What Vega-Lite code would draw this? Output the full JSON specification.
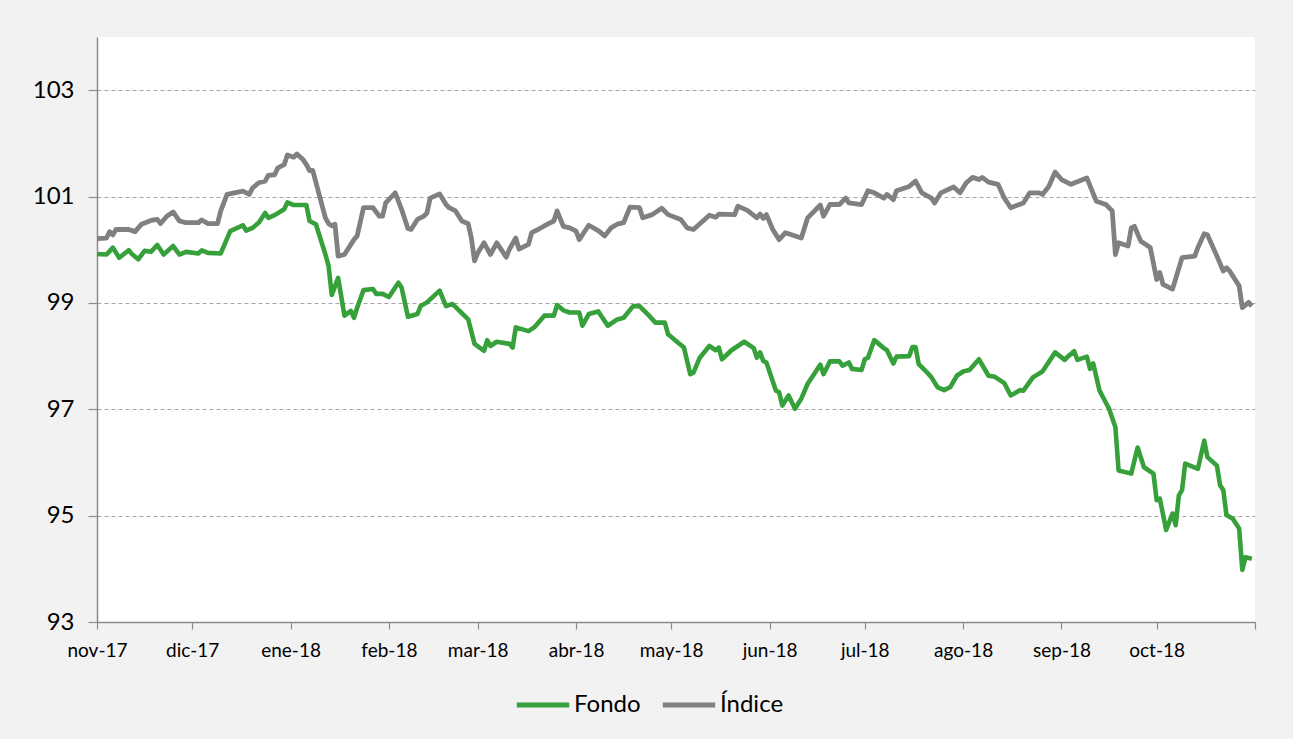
{
  "$schema": "https://vega.github.io/schema/vega-lite/v6.json",
  "width": 1158,
  "height": 585,
  "autosize": {"type": "none"},
  "padding": {"left": 97, "top": 37, "right": 38, "bottom": 117},
  "background": "#f2f2f2",
  "config": {
    "view": {"stroke": null, "fill": "#ffffff"},
    "font": "Lato"
  },
  "datasets": {
    "indice": [
      {"fecha":"2017-11-01","valor":100.21},{"fecha":"2017-11-04","valor":100.22},{"fecha":"2017-11-05","valor":100.34},{"fecha":"2017-11-06","valor":100.28},{"fecha":"2017-11-07","valor":100.38},{"fecha":"2017-11-11","valor":100.38},{"fecha":"2017-11-13","valor":100.34},{"fecha":"2017-11-15","valor":100.48},{"fecha":"2017-11-18","valor":100.55},{"fecha":"2017-11-20","valor":100.57},{"fecha":"2017-11-21","valor":100.49},{"fecha":"2017-11-23","valor":100.63},{"fecha":"2017-11-25","valor":100.71},{"fecha":"2017-11-27","valor":100.54},{"fecha":"2017-11-29","valor":100.51},{"fecha":"2017-12-03","valor":100.51},{"fecha":"2017-12-04","valor":100.56},{"fecha":"2017-12-06","valor":100.49},{"fecha":"2017-12-09","valor":100.49},{"fecha":"2017-12-10","valor":100.73},{"fecha":"2017-12-12","valor":101.04},{"fecha":"2017-12-17","valor":101.10},{"fecha":"2017-12-19","valor":101.04},{"fecha":"2017-12-20","valor":101.16},{"fecha":"2017-12-22","valor":101.26},{"fecha":"2017-12-24","valor":101.29},{"fecha":"2017-12-25","valor":101.40},{"fecha":"2017-12-27","valor":101.41},{"fecha":"2017-12-28","valor":101.54},{"fecha":"2017-12-30","valor":101.60},{"fecha":"2017-12-31","valor":101.78},{"fecha":"2018-01-02","valor":101.74},{"fecha":"2018-01-03","valor":101.80},{"fecha":"2018-01-05","valor":101.69},{"fecha":"2018-01-06","valor":101.60},{"fecha":"2018-01-07","valor":101.49},{"fecha":"2018-01-08","valor":101.49},{"fecha":"2018-01-10","valor":101.04},{"fecha":"2018-01-12","valor":100.60},{"fecha":"2018-01-13","valor":100.49},{"fecha":"2018-01-14","valor":100.45},{"fecha":"2018-01-15","valor":100.48},{"fecha":"2018-01-16","valor":99.88},{"fecha":"2018-01-18","valor":99.91},{"fecha":"2018-01-21","valor":100.19},{"fecha":"2018-01-22","valor":100.26},{"fecha":"2018-01-24","valor":100.79},{"fecha":"2018-01-27","valor":100.79},{"fecha":"2018-01-29","valor":100.63},{"fecha":"2018-01-30","valor":100.63},{"fecha":"2018-01-31","valor":100.88},{"fecha":"2018-02-03","valor":101.07},{"fecha":"2018-02-05","valor":100.76},{"fecha":"2018-02-07","valor":100.40},{"fecha":"2018-02-08","valor":100.38},{"fecha":"2018-02-10","valor":100.57},{"fecha":"2018-02-12","valor":100.63},{"fecha":"2018-02-13","valor":100.69},{"fecha":"2018-02-14","valor":100.97},{"fecha":"2018-02-17","valor":101.05},{"fecha":"2018-02-19","valor":100.85},{"fecha":"2018-02-20","valor":100.79},{"fecha":"2018-02-22","valor":100.73},{"fecha":"2018-02-24","valor":100.54},{"fecha":"2018-02-26","valor":100.49},{"fecha":"2018-02-27","valor":100.22},{"fecha":"2018-02-28","valor":99.79},{"fecha":"2018-03-01","valor":99.94},{"fecha":"2018-03-03","valor":100.13},{"fecha":"2018-03-05","valor":99.91},{"fecha":"2018-03-07","valor":100.13},{"fecha":"2018-03-10","valor":99.86},{"fecha":"2018-03-11","valor":100.01},{"fecha":"2018-03-13","valor":100.22},{"fecha":"2018-03-14","valor":100.01},{"fecha":"2018-03-17","valor":100.10},{"fecha":"2018-03-18","valor":100.32},{"fecha":"2018-03-20","valor":100.38},{"fecha":"2018-03-23","valor":100.48},{"fecha":"2018-03-25","valor":100.54},{"fecha":"2018-03-26","valor":100.73},{"fecha":"2018-03-28","valor":100.44},{"fecha":"2018-03-30","valor":100.41},{"fecha":"2018-04-01","valor":100.35},{"fecha":"2018-04-02","valor":100.19},{"fecha":"2018-04-05","valor":100.46},{"fecha":"2018-04-08","valor":100.36},{"fecha":"2018-04-10","valor":100.26},{"fecha":"2018-04-12","valor":100.41},{"fecha":"2018-04-14","valor":100.48},{"fecha":"2018-04-16","valor":100.51},{"fecha":"2018-04-18","valor":100.80},{"fecha":"2018-04-21","valor":100.79},{"fecha":"2018-04-22","valor":100.60},{"fecha":"2018-04-25","valor":100.66},{"fecha":"2018-04-28","valor":100.78},{"fecha":"2018-04-30","valor":100.66},{"fecha":"2018-05-04","valor":100.57},{"fecha":"2018-05-06","valor":100.41},{"fecha":"2018-05-08","valor":100.38},{"fecha":"2018-05-11","valor":100.54},{"fecha":"2018-05-13","valor":100.65},{"fecha":"2018-05-15","valor":100.61},{"fecha":"2018-05-16","valor":100.67},{"fecha":"2018-05-21","valor":100.66},{"fecha":"2018-05-22","valor":100.82},{"fecha":"2018-05-25","valor":100.74},{"fecha":"2018-05-28","valor":100.60},{"fecha":"2018-05-29","valor":100.67},{"fecha":"2018-05-30","valor":100.59},{"fecha":"2018-05-31","valor":100.66},{"fecha":"2018-06-02","valor":100.38},{"fecha":"2018-06-04","valor":100.19},{"fecha":"2018-06-06","valor":100.32},{"fecha":"2018-06-11","valor":100.22},{"fecha":"2018-06-13","valor":100.60},{"fecha":"2018-06-17","valor":100.84},{"fecha":"2018-06-18","valor":100.63},{"fecha":"2018-06-20","valor":100.85},{"fecha":"2018-06-23","valor":100.85},{"fecha":"2018-06-25","valor":100.97},{"fecha":"2018-06-26","valor":100.88},{"fecha":"2018-06-30","valor":100.85},{"fecha":"2018-07-02","valor":101.11},{"fecha":"2018-07-04","valor":101.07},{"fecha":"2018-07-07","valor":100.97},{"fecha":"2018-07-08","valor":101.04},{"fecha":"2018-07-10","valor":100.94},{"fecha":"2018-07-11","valor":101.11},{"fecha":"2018-07-15","valor":101.19},{"fecha":"2018-07-17","valor":101.29},{"fecha":"2018-07-19","valor":101.07},{"fecha":"2018-07-22","valor":100.97},{"fecha":"2018-07-23","valor":100.88},{"fecha":"2018-07-25","valor":101.07},{"fecha":"2018-07-29","valor":101.18},{"fecha":"2018-07-31","valor":101.07},{"fecha":"2018-08-02","valor":101.26},{"fecha":"2018-08-04","valor":101.36},{"fecha":"2018-08-06","valor":101.32},{"fecha":"2018-08-07","valor":101.36},{"fecha":"2018-08-09","valor":101.27},{"fecha":"2018-08-12","valor":101.23},{"fecha":"2018-08-14","valor":100.97},{"fecha":"2018-08-16","valor":100.79},{"fecha":"2018-08-20","valor":100.88},{"fecha":"2018-08-22","valor":101.07},{"fecha":"2018-08-25","valor":101.07},{"fecha":"2018-08-26","valor":101.04},{"fecha":"2018-08-28","valor":101.19},{"fecha":"2018-08-30","valor":101.46},{"fecha":"2018-09-01","valor":101.32},{"fecha":"2018-09-04","valor":101.23},{"fecha":"2018-09-09","valor":101.35},{"fecha":"2018-09-12","valor":100.91},{"fecha":"2018-09-15","valor":100.85},{"fecha":"2018-09-17","valor":100.73},{"fecha":"2018-09-18","valor":99.91},{"fecha":"2018-09-19","valor":100.13},{"fecha":"2018-09-22","valor":100.07},{"fecha":"2018-09-23","valor":100.41},{"fecha":"2018-09-24","valor":100.44},{"fecha":"2018-09-26","valor":100.16},{"fecha":"2018-09-29","valor":100.04},{"fecha":"2018-10-01","valor":99.44},{"fecha":"2018-10-02","valor":99.57},{"fecha":"2018-10-03","valor":99.35},{"fecha":"2018-10-06","valor":99.26},{"fecha":"2018-10-09","valor":99.85},{"fecha":"2018-10-13","valor":99.88},{"fecha":"2018-10-14","valor":100.04},{"fecha":"2018-10-16","valor":100.30},{"fecha":"2018-10-17","valor":100.28},{"fecha":"2018-10-20","valor":99.88},{"fecha":"2018-10-22","valor":99.60},{"fecha":"2018-10-23","valor":99.66},{"fecha":"2018-10-24","valor":99.60},{"fecha":"2018-10-27","valor":99.32},{"fecha":"2018-10-28","valor":98.91},{"fecha":"2018-10-30","valor":99.01},{"fecha":"2018-10-31","valor":98.94}
    ],
    "fondo": [
      {"fecha":"2017-11-01","valor":99.92},{"fecha":"2017-11-04","valor":99.91},{"fecha":"2017-11-06","valor":100.04},{"fecha":"2017-11-08","valor":99.85},{"fecha":"2017-11-11","valor":99.99},{"fecha":"2017-11-12","valor":99.92},{"fecha":"2017-11-14","valor":99.82},{"fecha":"2017-11-16","valor":99.98},{"fecha":"2017-11-18","valor":99.96},{"fecha":"2017-11-20","valor":100.09},{"fecha":"2017-11-22","valor":99.91},{"fecha":"2017-11-25","valor":100.07},{"fecha":"2017-11-27","valor":99.91},{"fecha":"2017-11-29","valor":99.96},{"fecha":"2017-12-03","valor":99.93},{"fecha":"2017-12-04","valor":99.99},{"fecha":"2017-12-06","valor":99.94},{"fecha":"2017-12-10","valor":99.93},{"fecha":"2017-12-13","valor":100.35},{"fecha":"2017-12-17","valor":100.46},{"fecha":"2017-12-18","valor":100.36},{"fecha":"2017-12-20","valor":100.41},{"fecha":"2017-12-22","valor":100.51},{"fecha":"2017-12-24","valor":100.69},{"fecha":"2017-12-25","valor":100.60},{"fecha":"2017-12-27","valor":100.65},{"fecha":"2017-12-30","valor":100.76},{"fecha":"2017-12-31","valor":100.89},{"fecha":"2018-01-02","valor":100.84},{"fecha":"2018-01-06","valor":100.84},{"fecha":"2018-01-07","valor":100.54},{"fecha":"2018-01-09","valor":100.48},{"fecha":"2018-01-12","valor":99.91},{"fecha":"2018-01-13","valor":99.69},{"fecha":"2018-01-14","valor":99.15},{"fecha":"2018-01-16","valor":99.47},{"fecha":"2018-01-18","valor":98.76},{"fecha":"2018-01-20","valor":98.85},{"fecha":"2018-01-21","valor":98.72},{"fecha":"2018-01-22","valor":98.91},{"fecha":"2018-01-24","valor":99.24},{"fecha":"2018-01-27","valor":99.26},{"fecha":"2018-01-28","valor":99.17},{"fecha":"2018-01-30","valor":99.17},{"fecha":"2018-02-01","valor":99.11},{"fecha":"2018-02-04","valor":99.38},{"fecha":"2018-02-05","valor":99.29},{"fecha":"2018-02-07","valor":98.74},{"fecha":"2018-02-10","valor":98.79},{"fecha":"2018-02-11","valor":98.94},{"fecha":"2018-02-13","valor":99.01},{"fecha":"2018-02-17","valor":99.23},{"fecha":"2018-02-19","valor":98.94},{"fecha":"2018-02-21","valor":98.98},{"fecha":"2018-02-26","valor":98.69},{"fecha":"2018-02-28","valor":98.23},{"fecha":"2018-03-03","valor":98.10},{"fecha":"2018-03-04","valor":98.30},{"fecha":"2018-03-05","valor":98.19},{"fecha":"2018-03-07","valor":98.27},{"fecha":"2018-03-11","valor":98.23},{"fecha":"2018-03-12","valor":98.16},{"fecha":"2018-03-13","valor":98.54},{"fecha":"2018-03-17","valor":98.47},{"fecha":"2018-03-19","valor":98.55},{"fecha":"2018-03-22","valor":98.76},{"fecha":"2018-03-25","valor":98.76},{"fecha":"2018-03-26","valor":98.96},{"fecha":"2018-03-28","valor":98.86},{"fecha":"2018-03-30","valor":98.82},{"fecha":"2018-04-02","valor":98.82},{"fecha":"2018-04-03","valor":98.57},{"fecha":"2018-04-05","valor":98.79},{"fecha":"2018-04-08","valor":98.84},{"fecha":"2018-04-11","valor":98.57},{"fecha":"2018-04-14","valor":98.69},{"fecha":"2018-04-16","valor":98.72},{"fecha":"2018-04-19","valor":98.94},{"fecha":"2018-04-21","valor":98.94},{"fecha":"2018-04-24","valor":98.76},{"fecha":"2018-04-26","valor":98.63},{"fecha":"2018-04-29","valor":98.63},{"fecha":"2018-04-30","valor":98.41},{"fecha":"2018-05-03","valor":98.26},{"fecha":"2018-05-05","valor":98.16},{"fecha":"2018-05-07","valor":97.66},{"fecha":"2018-05-08","valor":97.69},{"fecha":"2018-05-10","valor":97.97},{"fecha":"2018-05-13","valor":98.19},{"fecha":"2018-05-15","valor":98.11},{"fecha":"2018-05-16","valor":98.16},{"fecha":"2018-05-17","valor":97.94},{"fecha":"2018-05-20","valor":98.11},{"fecha":"2018-05-24","valor":98.27},{"fecha":"2018-05-27","valor":98.15},{"fecha":"2018-05-28","valor":97.97},{"fecha":"2018-05-29","valor":98.07},{"fecha":"2018-05-30","valor":97.91},{"fecha":"2018-05-31","valor":97.88},{"fecha":"2018-06-03","valor":97.35},{"fecha":"2018-06-04","valor":97.32},{"fecha":"2018-06-05","valor":97.07},{"fecha":"2018-06-07","valor":97.26},{"fecha":"2018-06-09","valor":97.01},{"fecha":"2018-06-11","valor":97.20},{"fecha":"2018-06-13","valor":97.48},{"fecha":"2018-06-15","valor":97.66},{"fecha":"2018-06-17","valor":97.84},{"fecha":"2018-06-18","valor":97.66},{"fecha":"2018-06-20","valor":97.90},{"fecha":"2018-06-23","valor":97.90},{"fecha":"2018-06-24","valor":97.82},{"fecha":"2018-06-26","valor":97.88},{"fecha":"2018-06-27","valor":97.76},{"fecha":"2018-06-30","valor":97.74},{"fecha":"2018-07-01","valor":97.94},{"fecha":"2018-07-02","valor":97.97},{"fecha":"2018-07-04","valor":98.30},{"fecha":"2018-07-07","valor":98.15},{"fecha":"2018-07-08","valor":98.11},{"fecha":"2018-07-10","valor":97.86},{"fecha":"2018-07-11","valor":97.99},{"fecha":"2018-07-15","valor":98.00},{"fecha":"2018-07-16","valor":98.17},{"fecha":"2018-07-17","valor":98.17},{"fecha":"2018-07-18","valor":97.85},{"fecha":"2018-07-21","valor":97.67},{"fecha":"2018-07-22","valor":97.60},{"fecha":"2018-07-24","valor":97.41},{"fecha":"2018-07-26","valor":97.36},{"fecha":"2018-07-28","valor":97.42},{"fecha":"2018-07-30","valor":97.63},{"fecha":"2018-08-01","valor":97.71},{"fecha":"2018-08-03","valor":97.74},{"fecha":"2018-08-06","valor":97.94},{"fecha":"2018-08-09","valor":97.63},{"fecha":"2018-08-11","valor":97.61},{"fecha":"2018-08-14","valor":97.49},{"fecha":"2018-08-16","valor":97.26},{"fecha":"2018-08-19","valor":97.36},{"fecha":"2018-08-20","valor":97.35},{"fecha":"2018-08-23","valor":97.60},{"fecha":"2018-08-26","valor":97.71},{"fecha":"2018-08-30","valor":98.07},{"fecha":"2018-09-02","valor":97.93},{"fecha":"2018-09-03","valor":97.99},{"fecha":"2018-09-05","valor":98.09},{"fecha":"2018-09-06","valor":97.93},{"fecha":"2018-09-09","valor":97.99},{"fecha":"2018-09-10","valor":97.76},{"fecha":"2018-09-11","valor":97.86},{"fecha":"2018-09-13","valor":97.35},{"fecha":"2018-09-16","valor":97.01},{"fecha":"2018-09-18","valor":96.66},{"fecha":"2018-09-19","valor":95.85},{"fecha":"2018-09-23","valor":95.79},{"fecha":"2018-09-25","valor":96.28},{"fecha":"2018-09-27","valor":95.91},{"fecha":"2018-09-30","valor":95.79},{"fecha":"2018-10-01","valor":95.29},{"fecha":"2018-10-02","valor":95.32},{"fecha":"2018-10-04","valor":94.73},{"fecha":"2018-10-06","valor":95.04},{"fecha":"2018-10-07","valor":94.82},{"fecha":"2018-10-08","valor":95.38},{"fecha":"2018-10-09","valor":95.48},{"fecha":"2018-10-10","valor":95.98},{"fecha":"2018-10-14","valor":95.88},{"fecha":"2018-10-16","valor":96.41},{"fecha":"2018-10-17","valor":96.10},{"fecha":"2018-10-20","valor":95.94},{"fecha":"2018-10-21","valor":95.57},{"fecha":"2018-10-22","valor":95.48},{"fecha":"2018-10-23","valor":95.01},{"fecha":"2018-10-25","valor":94.94},{"fecha":"2018-10-27","valor":94.76},{"fecha":"2018-10-28","valor":93.98},{"fecha":"2018-10-29","valor":94.22},{"fecha":"2018-10-31","valor":94.19}
    ]
  },
  "encoding": {
    "x": {
      "field": "fecha",
      "type": "temporal",
      "title": null,
      "scale": {
        "type": "utc",
        "domain": [{"year": 2017, "month": 11, "date": 1, "utc": true}, {"year": 2018, "month": 11, "date": 1, "utc": true}]
      },
      "axis": {
        "values": [
          {"year": 2017, "month": 11, "date": 1, "utc": true},
          {"year": 2017, "month": 12, "date": 1, "utc": true},
          {"year": 2018, "month": 1, "date": 1, "utc": true},
          {"year": 2018, "month": 2, "date": 1, "utc": true},
          {"year": 2018, "month": 3, "date": 1, "utc": true},
          {"year": 2018, "month": 4, "date": 1, "utc": true},
          {"year": 2018, "month": 5, "date": 1, "utc": true},
          {"year": 2018, "month": 6, "date": 1, "utc": true},
          {"year": 2018, "month": 7, "date": 1, "utc": true},
          {"year": 2018, "month": 8, "date": 1, "utc": true},
          {"year": 2018, "month": 9, "date": 1, "utc": true},
          {"year": 2018, "month": 10, "date": 1, "utc": true},
          {"year": 2018, "month": 11, "date": 1, "utc": true}
        ],
        "labelExpr": "(utcyear(datum.value) == 2018 && utcmonth(datum.value) == 10) ? '' : ['ene','feb','mar','abr','may','jun','jul','ago','sep','oct','nov','dic'][utcmonth(datum.value)] + '-' + utcFormat(datum.value, '%y')",
        "grid": false,
        "domainColor": "#8c8c8c",
        "domainWidth": 1.5,
        "tickColor": "#8c8c8c",
        "tickWidth": 1.2,
        "tickSize": 7,
        "labelFontSize": 19,
        "labelColor": "#000000",
        "labelPadding": 12,
        "labelFlush": false,
        "labelOverlap": false
      }
    },
    "y": {
      "field": "valor",
      "type": "quantitative",
      "title": null,
      "scale": {"domain": [93, 104], "nice": false, "zero": false},
      "axis": {
        "values": [93, 95, 97, 99, 101, 103],
        "grid": true,
        "gridColor": "#a6a6a6",
        "gridDash": [4, 3],
        "gridWidth": 1.2,
        "domainColor": "#8c8c8c",
        "domainWidth": 1.5,
        "tickColor": "#8c8c8c",
        "tickWidth": 1.2,
        "tickSize": 9,
        "labelFontSize": 24,
        "labelColor": "#000000",
        "labelPadding": 14,
        "labelFlush": false
      }
    },
    "color": {
      "scale": {"domain": ["Fondo", "Índice"], "range": ["#36a03a", "#808080"]},
      "legend": {
        "title": null,
        "orient": "none",
        "direction": "horizontal",
        "legendX": 417,
        "legendY": 639,
        "symbolType": "stroke",
        "symbolSize": 2750,
        "symbolStrokeWidth": 4.8,
        "labelFontSize": 24,
        "labelColor": "#000000",
        "labelOffset": 2,
        "columnPadding": 12
      }
    }
  },
  "layer": [
    {
      "data": {"name": "indice"},
      "mark": {"type": "line", "strokeWidth": 4.8, "strokeJoin": "round"},
      "encoding": {"color": {"datum": "Índice"}}
    },
    {
      "data": {"name": "fondo"},
      "mark": {"type": "line", "strokeWidth": 4.6, "strokeJoin": "round"},
      "encoding": {"color": {"datum": "Fondo"}}
    }
  ]
}
